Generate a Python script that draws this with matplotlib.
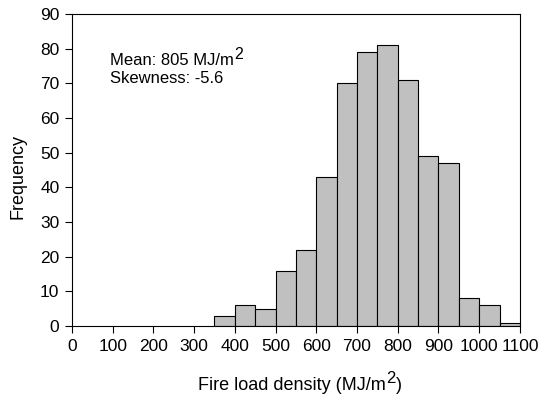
import matplotlib.pyplot as plt

plt.rcParams['font.family'] = ['Liberation Sans', 'DejaVu Sans']

bin_edges = [350, 400, 450, 500, 550, 600, 650, 700, 750, 800, 850, 900, 950, 1000, 1050, 1100]
counts = [3, 6, 5, 16, 22, 43, 70, 79, 81, 71, 49, 47, 8, 6, 1]

fig = plt.figure(figsize=(5.41, 4.04), dpi=100)
ax = fig.add_axes([0.133, 0.193, 0.828, 0.772])

ax.hist(bin_edges[:-1], bins=bin_edges, weights=counts,
        color='#c0c0c0', edgecolor='black', linewidth=0.8)

ax.set_xlim(0, 1100)
ax.set_ylim(0, 90)
ax.set_xticks(range(0, 1101, 100))
ax.set_yticks(range(0, 91, 10))
ax.tick_params(direction='out', length=5, width=0.8, labelsize=12.5, pad=4,
               top=False, right=False)
for s in ax.spines.values():
    s.set_linewidth(0.8)

# axis labels, drawn as text so the superscript can be full size
xl = ax.text(0.49, -0.205, 'Fire load density (MJ/m', transform=ax.transAxes,
             fontsize=13, ha='center', va='baseline')
sup = ax.annotate('2', xy=(1, 1), xycoords=xl, xytext=(0.5, -1), textcoords='offset points',
                  fontsize=12, ha='left', va='center')
ax.annotate(')', xy=(1, 0), xycoords=(sup, xl), xytext=(0.5, 0), textcoords='offset points',
            fontsize=13, ha='left', va='bottom')
ax.text(-0.12, 0.48, 'Frequency', transform=ax.transAxes, rotation=90,
        fontsize=13, ha='center', va='center')

t1 = ax.text(0.0848, 0.8365, 'Mean: 805 MJ/m', transform=ax.transAxes,
             fontsize=12, ha='left', va='baseline')
ax.annotate('2', xy=(1, 1), xycoords=t1, xytext=(0.5, -1), textcoords='offset points',
            fontsize=11.5, ha='left', va='center')
ax.text(0.0848, 0.779, 'Skewness: -5.6', transform=ax.transAxes,
        fontsize=12, ha='left', va='baseline')

plt.savefig('out.png', dpi=100)
